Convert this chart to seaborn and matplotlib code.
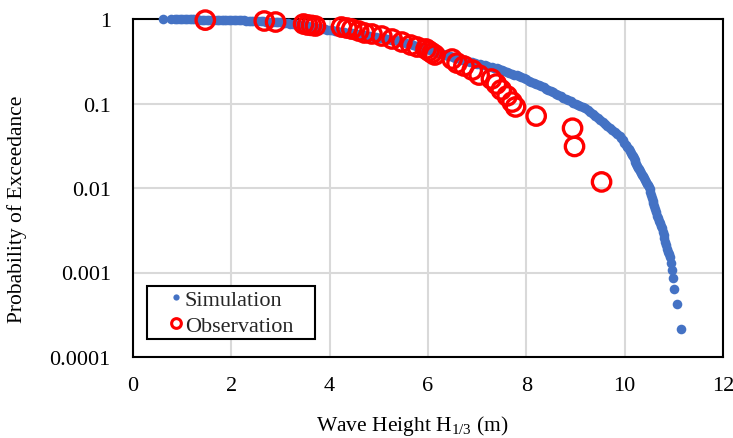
import matplotlib
matplotlib.use("Agg")
import matplotlib.pyplot as plt
import seaborn as sns
import pandas as pd
from matplotlib.lines import Line2D
from matplotlib.ticker import FixedLocator, FixedFormatter, NullLocator

# ---------------- data ----------------
sim_h = [0.61, 0.78, 0.85, 0.90, 0.95, 1.00, 1.05, 1.10, 1.15, 1.20, 1.25, 1.30, 1.35, 1.40, 1.45,
         1.50, 1.55, 1.60, 1.65, 1.70, 1.75, 1.80, 1.85, 1.90, 1.95,
         2.00, 2.05, 2.10, 2.15, 2.20, 2.25, 2.30, 2.35, 2.40, 2.45, 2.50, 2.55, 2.60, 2.65, 2.70,
         2.75, 2.80, 2.85, 2.90, 2.95, 3.00, 3.05, 3.10, 3.15, 3.20, 3.25, 3.30,
         3.35, 3.40, 3.45, 3.50, 3.55, 3.60, 3.65, 3.70, 3.75, 3.80, 3.85, 3.90, 3.95, 4.00,
         4.05, 4.10, 4.15, 4.20, 4.25, 4.30, 4.35, 4.40, 4.45, 4.50, 4.55, 4.60, 4.65, 4.70,
         4.75, 4.80, 4.85, 4.90, 4.95, 5.00, 5.05, 5.10, 5.15, 5.20, 5.25, 5.30, 5.35, 5.40,
         5.45, 5.50, 5.55, 5.60, 5.65, 5.70, 5.75, 5.80, 5.85, 5.90, 5.95, 6.00, 6.05, 6.10,
         6.15, 6.20, 6.25, 6.30, 6.35, 6.40, 6.45, 6.50, 6.55, 6.60, 6.65, 6.70, 6.75, 6.80,
         6.85, 6.90, 6.95, 7.00, 7.05, 7.10, 7.15, 7.20, 7.25, 7.30, 7.35, 7.40, 7.45, 7.50,
         7.55, 7.60, 7.65, 7.70, 7.75, 7.80, 7.85, 7.90, 7.95, 8.00, 8.05, 8.10, 8.15, 8.20,
         8.25, 8.30, 8.35, 8.40, 8.45, 8.50, 8.55, 8.60, 8.65, 8.70, 8.75, 8.80, 8.85, 8.90,
         8.95, 9.00, 9.05, 9.10, 9.15, 9.20, 9.25, 9.30, 9.35, 9.40, 9.45, 9.50, 9.55, 9.60,
         9.65, 9.70, 9.75, 9.80, 9.85, 9.90, 9.93, 9.96, 9.99, 10.02, 10.05, 10.08, 10.10,
         10.12, 10.14, 10.16, 10.18, 10.20, 10.22, 10.24, 10.26, 10.28, 10.30, 10.32, 10.34,
         10.36, 10.37, 10.39, 10.41, 10.43, 10.45, 10.47, 10.49, 10.51, 10.525, 10.54, 10.555,
         10.57, 10.585, 10.60, 10.615, 10.63, 10.65, 10.67, 10.69, 10.71, 10.73, 10.75, 10.78,
         10.795, 10.81, 10.825, 10.84, 10.86, 10.88, 10.90, 10.92, 10.95, 10.97, 10.99, 11.01,
         11.06, 11.14]
sim_p = [0.991, 0.991, 0.990, 0.990, 0.990, 0.989, 0.989, 0.989, 0.988, 0.988, 0.987, 0.987, 0.986, 0.985, 0.985,
         0.984, 0.983, 0.982, 0.981, 0.980, 0.979, 0.977, 0.976, 0.975, 0.974,
         0.973, 0.970, 0.968, 0.966, 0.964, 0.962, 0.959, 0.957, 0.955, 0.952, 0.949, 0.945, 0.941, 0.937, 0.933,
         0.929, 0.925, 0.921, 0.917, 0.913, 0.910, 0.902, 0.894, 0.886, 0.878, 0.870, 0.863,
         0.855, 0.848, 0.840, 0.832, 0.822, 0.813, 0.803, 0.794, 0.785, 0.776, 0.767, 0.759, 0.750, 0.741,
         0.733, 0.726, 0.718, 0.711, 0.703, 0.696, 0.689, 0.681, 0.674, 0.667, 0.660, 0.654, 0.647, 0.641,
         0.634, 0.628, 0.622, 0.617, 0.610, 0.604, 0.597, 0.590, 0.583, 0.577, 0.570, 0.564, 0.557, 0.551,
         0.541, 0.531, 0.521, 0.511, 0.501, 0.491, 0.481, 0.472, 0.463, 0.454, 0.445, 0.436, 0.427, 0.418,
         0.409, 0.401, 0.393, 0.385, 0.377, 0.369, 0.362, 0.356, 0.349, 0.343, 0.337, 0.331, 0.325, 0.319,
         0.313, 0.308, 0.302, 0.297, 0.292, 0.287, 0.282, 0.278, 0.273, 0.269, 0.264, 0.260, 0.255, 0.249,
         0.243, 0.237, 0.231, 0.226, 0.220, 0.215, 0.209, 0.204, 0.198, 0.193, 0.187, 0.182, 0.177, 0.172,
         0.167, 0.161, 0.155, 0.150, 0.145, 0.140, 0.135, 0.130, 0.126, 0.122, 0.117, 0.113, 0.109, 0.106,
         0.102, 0.0991, 0.0960, 0.0929, 0.0899, 0.0873, 0.0834, 0.0791, 0.0748, 0.0710, 0.0673, 0.0637, 0.0604, 0.0571,
         0.0542, 0.0513, 0.0485, 0.0460, 0.0436, 0.0412, 0.0387, 0.0365, 0.0343, 0.0323, 0.0303, 0.0286, 0.0274,
         0.0261, 0.0248, 0.0236, 0.0224, 0.0213, 0.0202, 0.0192, 0.0183, 0.0174, 0.0166, 0.0157, 0.0150,
         0.0142, 0.0139, 0.0132, 0.0125, 0.0119, 0.0113, 0.0108, 0.0102, 0.00973, 0.00899, 0.00832, 0.00769,
         0.00710, 0.00656, 0.00607, 0.00561, 0.00519, 0.00467, 0.00437, 0.00408, 0.00381, 0.00356, 0.00333, 0.00301,
         0.00276, 0.00254, 0.00232, 0.00213, 0.00190, 0.00176, 0.00164, 0.00152, 0.00128, 0.00107, 0.000857, 0.000642,
         0.000428, 0.000214]

obs_h = [1.47, 2.67, 2.90, 3.47, 3.55, 3.63, 3.71, 4.24, 4.35, 4.45, 4.59, 4.71, 4.86, 5.06,
         5.27, 5.47, 5.65, 5.78, 5.96, 6.02, 6.08, 6.14, 6.49, 6.59, 6.73, 6.90, 7.04, 7.29,
         7.39, 7.49, 7.61, 7.71, 7.78, 8.20, 8.94, 8.98, 9.53]
obs_p = [0.970, 0.947, 0.921, 0.873, 0.849, 0.840, 0.826, 0.804, 0.782, 0.760, 0.721, 0.683, 0.665, 0.629,
         0.580, 0.534, 0.492, 0.466, 0.442, 0.418, 0.396, 0.375, 0.336, 0.301, 0.278, 0.249, 0.217, 0.195,
         0.170, 0.145, 0.123, 0.104, 0.091, 0.071, 0.051, 0.031, 0.0118]

y_ticks = [1, 0.1, 0.01, 0.001, 0.0001]
y_tick_labels = ["1", "0.1", "0.01", "0.001", "0.0001"]
x_ticks = [0, 2, 4, 6, 8, 10, 12]
x_tick_labels = ["0", "2", "4", "6", "8", "10", "12"]

series_names = ["Simulation", "Observation"]
x_label = "Wave Height H$_{\\mathrm{1/3}}$ (m)"
y_label = "Probability of Exceedance"

# ---------------- style ----------------
sns.set_theme(style="white")
plt.rcParams["font.family"] = ["Liberation Serif", "DejaVu Serif"]
plt.rcParams["mathtext.fontset"] = "custom"
plt.rcParams["mathtext.rm"] = "Liberation Serif"
plt.rcParams["mathtext.it"] = "Liberation Serif:italic"
plt.rcParams["mathtext.bf"] = "Liberation Serif:bold"

BLUE = "#4472C4"
RED = "#FF0000"
GRID = "#D9D9D9"

fig = plt.figure(figsize=(7.33, 4.39), dpi=100)
ax = fig.add_axes([133 / 733, 1 - 358 / 439, 590 / 733, 338 / 439])

sim_df = pd.DataFrame({"h": sim_h, "p": sim_p})
obs_df = pd.DataFrame({"h": obs_h, "p": obs_p})

sns.scatterplot(data=sim_df, x="h", y="p", ax=ax, color=BLUE, s=48, linewidth=0,
                marker="o", clip_on=False, zorder=3, legend=False)
sns.scatterplot(data=obs_df, x="h", y="p", ax=ax, facecolors="none", edgecolor=RED,
                s=175, linewidth=2.4, marker="o", clip_on=False, zorder=4, legend=False)

ax.set_yscale("log")
ax.set_xlim(0, 12)
ax.set_ylim(0.0001, 1)

ax.xaxis.set_major_locator(FixedLocator(x_ticks))
ax.xaxis.set_major_formatter(FixedFormatter(x_tick_labels))
ax.yaxis.set_major_locator(FixedLocator(y_ticks))
ax.yaxis.set_major_formatter(FixedFormatter(y_tick_labels))
ax.yaxis.set_minor_locator(NullLocator())
ax.xaxis.set_minor_locator(NullLocator())

ax.grid(True, which="major", color=GRID, linewidth=1.5, zorder=0)
ax.set_axisbelow(True)
for sp in ax.spines.values():
    sp.set_visible(True)
    sp.set_color("black")
    sp.set_linewidth(1.5)
    sp.set_zorder(2)

ax.tick_params(axis="x", length=0, pad=14, labelsize=16, colors="black")
ax.tick_params(axis="y", length=0, pad=16, labelsize=16, colors="black")

ax.set_xlabel(x_label, fontsize=15.5, color="black")
ax.set_ylabel(y_label, fontsize=15.5, color="black")
ax.xaxis.set_label_coords(0.473, -0.165)
ax.yaxis.set_label_coords(-0.18, 0.44)

handles = [
    Line2D([], [], linestyle="none", marker="o", markersize=4.5, markerfacecolor=BLUE,
           markeredgewidth=0),
    Line2D([], [], linestyle="none", marker="o", markersize=7, markerfacecolor="none",
           markeredgecolor=RED, markeredgewidth=2.2),
]
leg = ax.legend(handles, series_names, loc="lower left",
                bbox_to_anchor=(0.0237, 0.0533, 0.2847, 0.17), mode="expand",
                borderaxespad=0, fontsize=16, frameon=True, fancybox=False,
                borderpad=0.15, labelspacing=0.25, handlelength=2.3, handletextpad=-0.75)
leg.get_frame().set_edgecolor("black")
leg.get_frame().set_linewidth(1.5)
leg.get_frame().set_facecolor("white")
leg.get_frame().set_alpha(1)
leg.set_zorder(10)

fig.savefig("out.png", dpi=100)
